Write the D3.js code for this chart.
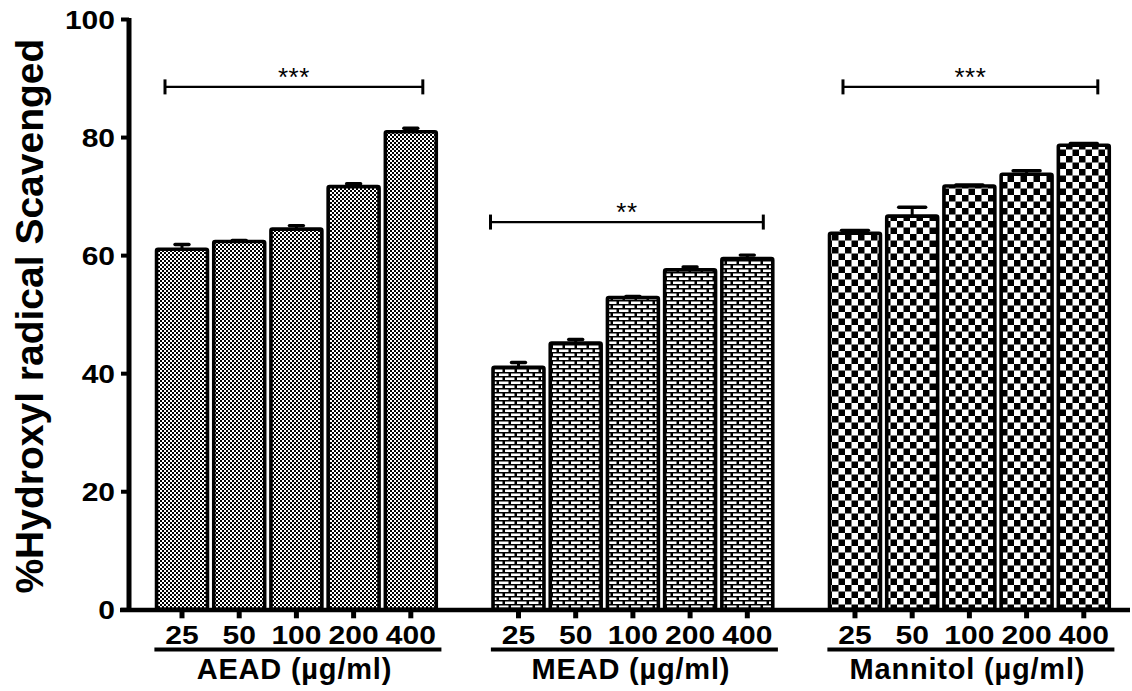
<!DOCTYPE html>
<html>
<head>
<meta charset="utf-8">
<script src="https://cdn.jsdelivr.net/npm/d3@7"></script>
<style>
  html, body { margin: 0; padding: 0; background: #fff; }
  svg { display: block; font-family: "Liberation Sans", Arial, Helvetica, sans-serif; }
</style>
</head>
<body>
<svg id="chart" width="1132" height="691"></svg>
<script>
// ---------------- data ----------------
const categories = ["25", "50", "100", "200", "400"];
const groups = ["AEAD (µg/ml)", "MEAD (µg/ml)", "Mannitol (µg/ml)"];
const groupKeys = ["AEAD", "MEAD", "Mannitol"];
const aeadValues = [61.0, 62.3, 64.4, 71.6, 80.9];
const aeadErrors = [0.8, 0.2, 0.6, 0.5, 0.6];
const meadValues = [41.0, 45.1, 52.8, 57.5, 59.4];
const meadErrors = [0.8, 0.6, 0.2, 0.5, 0.6];
const mannitolValues = [63.7, 66.6, 71.7, 73.7, 78.6];
const mannitolErrors = [0.5, 1.5, 0.2, 0.6, 0.3];
const yTicks = [0, 20, 40, 60, 80, 100];
const sigLabels = ["***", "**", "***"];
const sigHeights = [88.5, 65.6, 88.5];
const yTitle = "%Hydroxyl radical Scavenged";

// ---------------- styles ----------------
const patternIds = { AEAD: "pFine", MEAD: "pBrick", Mannitol: "pCheck" };
const capWidths = { AEAD: 14, MEAD: 14, Mannitol: 27 };
const bracketPad = { AEAD: [-17, 12], MEAD: [-28, 16], Mannitol: [-12, 14] };

const svg = d3.select("#chart");
const defs = svg.append("defs");

// fine checker (AEAD)
const p1 = defs.append("pattern").attr("id", "pFine").attr("patternUnits", "userSpaceOnUse")
  .attr("width", 4).attr("height", 4);
p1.append("rect").attr("width", 4).attr("height", 4).attr("fill", "#fff");
p1.append("rect").attr("x", 0).attr("y", 0).attr("width", 2).attr("height", 2).attr("fill", "#000");
p1.append("rect").attr("x", 2).attr("y", 2).attr("width", 2).attr("height", 2).attr("fill", "#000");

// brick (MEAD)
const p2 = defs.append("pattern").attr("id", "pBrick").attr("patternUnits", "userSpaceOnUse")
  .attr("width", 12).attr("height", 8);
p2.append("rect").attr("width", 12).attr("height", 8).attr("fill", "#000");
p2.append("rect").attr("x", 1).attr("y", 1.5).attr("width", 9.5).attr("height", 2.5).attr("fill", "#fff");
p2.append("rect").attr("x", -5).attr("y", 5.5).attr("width", 9.5).attr("height", 2.5).attr("fill", "#fff");
p2.append("rect").attr("x", 7).attr("y", 5.5).attr("width", 9.5).attr("height", 2.5).attr("fill", "#fff");

// large checker (Mannitol)
const p3 = defs.append("pattern").attr("id", "pCheck").attr("patternUnits", "userSpaceOnUse")
  .attr("width", 13).attr("height", 13);
p3.append("rect").attr("width", 13).attr("height", 13).attr("fill", "#fff");
p3.append("rect").attr("x", 0).attr("y", 0).attr("width", 6.5).attr("height", 6.5).attr("fill", "#000");
p3.append("rect").attr("x", 6.5).attr("y", 6.5).attr("width", 6.5).attr("height", 6.5).attr("fill", "#000");

// ---------------- scales ----------------
const y = d3.scaleLinear().domain([0, 100]).range([609.3, 19]);
const xGroup = d3.scaleBand().domain(groupKeys).range([153.4, 1112.4]).paddingInner(0.15).paddingOuter(0);
const xBar = d3.scaleBand().domain(categories).range([0, xGroup.bandwidth()])
  .paddingInner(0.11).paddingOuter(0.055);

const seriesValues = { AEAD: aeadValues, MEAD: meadValues, Mannitol: mannitolValues };
const seriesErrors = { AEAD: aeadErrors, MEAD: meadErrors, Mannitol: mannitolErrors };

const rows = [];
groupKeys.forEach((g, gi) => {
  categories.forEach((c, ci) => {
    rows.push({ group: g, gi, cat: c, value: seriesValues[g][ci], err: seriesErrors[g][ci] });
  });
});
const cx = d => xGroup(d.group) + xBar(d.cat) + xBar.bandwidth() / 2;

// ---------------- bars ----------------
svg.append("g").selectAll("rect").data(rows).join("rect")
  .attr("x", d => xGroup(d.group) + xBar(d.cat))
  .attr("y", d => y(d.value))
  .attr("width", xBar.bandwidth())
  .attr("height", d => y(0) - y(d.value))
  .attr("fill", d => `url(#${patternIds[d.group]})`)
  .attr("stroke", "#000").attr("stroke-width", 3.6)
  .attr("rx", 1.5);

// error bars (upper only)
const eb = svg.append("g").attr("stroke", "#000");
eb.selectAll("line.stem").data(rows).join("line").attr("class", "stem")
  .attr("x1", cx).attr("x2", cx)
  .attr("y1", d => y(d.value)).attr("y2", d => y(d.value + d.err))
  .attr("stroke-width", 3);
eb.selectAll("line.cap").data(rows).join("line").attr("class", "cap")
  .attr("x1", d => cx(d) - capWidths[d.group] / 2).attr("x2", d => cx(d) + capWidths[d.group] / 2)
  .attr("y1", d => y(d.value + d.err)).attr("y2", d => y(d.value + d.err))
  .attr("stroke-width", 3.4).attr("stroke-linecap", "round");

// ---------------- axes ----------------
const yAxis = svg.append("g").attr("transform", "translate(129,0)")
  .call(d3.axisLeft(y).tickValues(yTicks).tickSize(8).tickPadding(6).tickFormat(d3.format("d")));
yAxis.select(".domain").attr("d", `M0,${y(100) - 1}V${y(0) + 2}`).attr("stroke-width", 5);
yAxis.selectAll(".tick line").attr("stroke-width", 4);
yAxis.selectAll(".tick text").attr("font-size", 25).attr("font-weight", "bold")
  .attr("fill", "#000").attr("dy", "0.36em").attr("x", -14);

// x axis line
svg.append("line").attr("x1", 120).attr("x2", 1130).attr("y1", y(0) + 0.7).attr("y2", y(0) + 0.7)
  .attr("stroke", "#000").attr("stroke-width", 4.5);

// x tick marks and labels per group
groupKeys.forEach((g, gi) => {
  const gAxis = svg.append("g").attr("transform", `translate(${xGroup(g)},${y(0) + 2})`)
    .call(d3.axisBottom(xBar).tickSize(7).tickPadding(8));
  gAxis.select(".domain").remove();
  gAxis.selectAll(".tick line").attr("stroke-width", 5);
  gAxis.selectAll(".tick text").attr("font-size", 25).attr("font-weight", "bold").attr("fill", "#000");

  // underline
  svg.append("line").attr("x1", xGroup(g) + 1).attr("x2", xGroup(g) + xGroup.bandwidth() + 2)
    .attr("y1", 649.5).attr("y2", 649.5).attr("stroke", "#000").attr("stroke-width", 4);
  // group label
  svg.append("text").attr("class", "grp").attr("x", xGroup(g) + xGroup.bandwidth() / 2 - 2).attr("y", 679)
    .attr("text-anchor", "middle").attr("font-size", 29).attr("font-weight", "bold")
    .attr("letter-spacing", 0.8).text(groups[gi]);

  // significance bracket
  const x1 = cx({ group: g, cat: categories[0] }) + bracketPad[g][0];
  const x2 = cx({ group: g, cat: categories[categories.length - 1] }) + bracketPad[g][1];
  const yb = y(sigHeights[gi]);
  const br = svg.append("g").attr("stroke", "#000").attr("stroke-width", 2.2);
  br.append("line").attr("x1", x1).attr("x2", x2).attr("y1", yb).attr("y2", yb);
  br.append("line").attr("x1", x1).attr("x2", x1).attr("y1", yb - 7.5).attr("y2", yb + 7.5).attr("stroke-width", 3);
  br.append("line").attr("x1", x2).attr("x2", x2).attr("y1", yb - 7.5).attr("y2", yb + 7.5).attr("stroke-width", 3);
  svg.append("text").attr("x", (x1 + x2) / 2).attr("y", yb - 1).attr("text-anchor", "middle")
    .attr("font-size", 26).attr("letter-spacing", 0.5).text(sigLabels[gi]);
});

// stretch digits horizontally to match reference proportions
svg.selectAll(".tick text").each(function () {
  const t = d3.select(this);
  const w = this.getComputedTextLength();
  t.attr("textLength", w * 1.2).attr("lengthAdjust", "spacingAndGlyphs");
});

// y axis title
svg.append("text")
  .attr("transform", `translate(43,${(y(0) + y(100)) / 2 + 2}) rotate(-90)`)
  .attr("text-anchor", "middle").attr("font-size", 39).attr("font-weight", "bold")
  .text(yTitle);
</script>
</body>
</html>
